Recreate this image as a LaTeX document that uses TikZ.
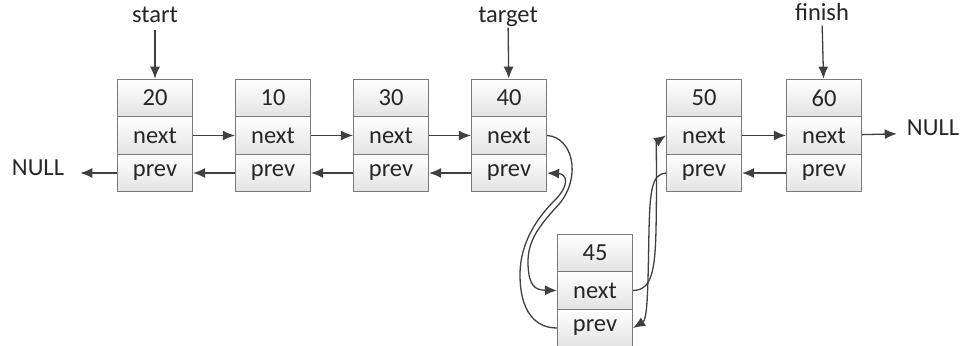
\documentclass[tikz,border=0pt]{standalone}
\usepackage{fontspec}
\setmainfont{Carlito}
\usetikzlibrary{arrows.meta}
\definecolor{linegray}{HTML}{404040}
\definecolor{boxgray}{HTML}{7A7A7A}

\begin{document}
\begin{tikzpicture}[x=1pt, y=-1pt, font=\fontsize{24.5}{29}\selectfont,
    cell/.style={draw=boxgray, line width=1.2pt, top color=white, bottom color=black!11,
                 minimum width=75pt, minimum height=37.5pt, inner sep=0pt, text=black!85},
    lbl/.style={inner sep=2pt, text height=0.7em, text depth=0.2em, text=black!85},
    link/.style={draw=linegray, line width=1.3pt, -{Latex[length=12pt,width=10pt]}}]
    \useasboundingbox (0,0) rectangle (976,345);
    % value, next and prev cell of every element
    \foreach \v/\x/\y in {20/155/98, 10/273/98, 30/391/98, 40/509/98,
                          50/704/98, 60/824/98, 45/595/253} {
        \node[cell] (v\v) at (\x,\y) {\v};
        \node[cell] (n\v) at (\x,\y+37.5) {next};
        \node[cell] (p\v) at (\x,\y+75) {prev};
    }
    \node[lbl] (start) at (155,20) {start};
    \node[lbl] (target) at (508,20) {target};
    \node[lbl] (finish) at (822,18) {finish};
    \node[lbl] (null1) at (38,173) {NULL};
    \node[lbl] (null2) at (933,133) {NULL};
    \draw[link, shorten <=3pt] (start) -- (v20);
    \draw[link, shorten <=1pt] (target) -- (v40);
    \draw[link, shorten <=1pt] (finish) -- (v60);
    % next pointers
    \draw[link] (n20) -- (n10);
    \draw[link] (n10) -- (n30);
    \draw[link] (n30) -- (n40);
    \draw[link] (n50) -- (n60);
    \draw[link, shorten >=8pt] (n60) -- (null2);
    % prev pointers
    \draw[link] (p10) -- (p20);
    \draw[link] (p30) -- (p10);
    \draw[link] (p40) -- (p30);
    \draw[link] (p60) -- (p50);
    \draw[link, shorten >=14pt] (p20) -- (null1);
    % 45 put in between 40 and 50
    \draw[link] (n40.east) .. controls (572,137) and (582,175) .. (560,203)
        .. controls (540,225) and (527,240) .. (528,265)
        .. controls (529,286) and (535,290) .. (n45.west);
    \draw[link] (p45.west) .. controls (535,328) and (520,311) .. (520,275)
        .. controls (520,240) and (540,215) .. (555,200)
        .. controls (570,185) and (567,174) .. (p40.east);
    \draw[link] (n45.east) .. controls (652,290) and (655,270) .. (656,230)
        .. controls (657,180) and (656,142) .. (n50.west);
    \draw[link] (p50.west) .. controls (652,174) and (650,190) .. (649,230)
        .. controls (648,280) and (648,319) .. (p45.east);
\end{tikzpicture}
\end{document}
